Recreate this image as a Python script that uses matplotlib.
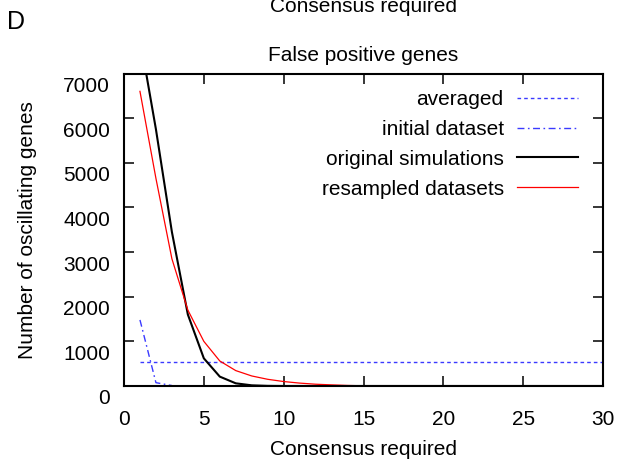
import matplotlib.pyplot as plt
import matplotlib.transforms as mtransforms

plt.rcParams['font.family'] = 'Liberation Sans'

# values
consensus = list(range(1, 31))
original = [7800, 5750, 3450, 1600, 620, 210, 60, 15, 3] + [0] * 21
resampled = [6600, 4650, 2850, 1700, 1000, 560, 345, 225, 150, 100,
             65, 40, 25, 12, 5, 3, 2, 1, 1] + [0] * 11
initial_x = [1, 2, 3]
initial = [1480, 75, 10]
averaged = [545] * 30

fig = plt.figure(figsize=(6.19, 4.62), dpi=100)
ax = fig.add_axes([124 / 619, 1 - 386 / 462, (603 - 124) / 619, (386 - 73.5) / 462])

ax.plot(consensus, averaged, color='#3a3aff', lw=1, dashes=(2.6, 2.2), label='averaged')
ax.plot(initial_x, initial, color='#3a3aff', lw=1, dashes=(5, 2.5, 1.2, 2.5), label='initial dataset')
ax.plot(consensus, original, color='black', lw=1.5, label='original simulations')
ax.plot(consensus, resampled, color='red', lw=0.9, label='resampled datasets')

ax.set_xlim(0, 30)
ax.set_ylim(0, 7000)
ax.set_xticks(range(0, 31, 5))
ax.set_yticks(range(0, 7001, 1000))
ax.tick_params(direction='in', length=7, width=1.1, top=True, right=True, labelsize=15)
ax.tick_params(axis='x', pad=17)
ax.tick_params(axis='y', pad=10)
for s in ax.spines.values():
    s.set_linewidth(1.5)

# y tick labels sit a bit below their ticks in the original
shift = mtransforms.ScaledTranslation(0, -11 / 100, fig.dpi_scale_trans)
for lab in ax.get_yticklabels():
    lab.set_transform(lab.get_transform() + shift)

ax.legend(loc='upper right', bbox_to_anchor=(0.947, 0.947), frameon=False,
          markerfirst=False, fontsize=15, handlelength=2.9, handletextpad=0.65,
          labelspacing=0.52, borderpad=0, borderaxespad=0)

ax.set_title('False positive genes', fontsize=15, pad=9)
ax.set_xlabel('Consensus required', fontsize=15, labelpad=8)
ax.set_ylabel('Number of oscillating genes', fontsize=15, labelpad=19)

fig.text(7 / 619, 1 - 29 / 462, 'D', fontsize=18, ha='left', va='baseline')
fig.text(364 / 619, 1 - 12.5 / 462, 'Consensus required', fontsize=15, ha='center', va='baseline')

fig.savefig('out.png', dpi=100)
